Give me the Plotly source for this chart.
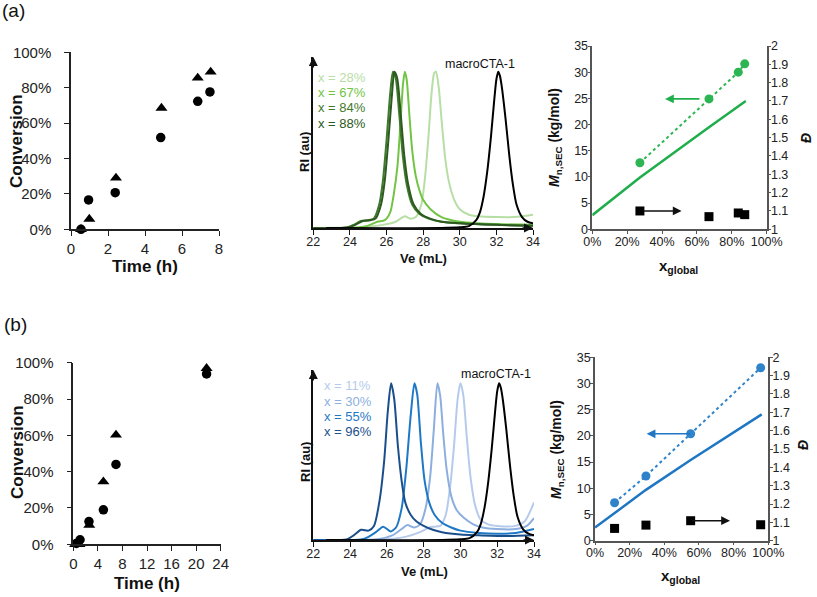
import plotly.graph_objects as go

W, H = 817, 597
OFF = 0
FONT = "Liberation Sans, Arial, sans-serif"

# ---------------- data ----------------
# (a) kinetics
t_a_circ = [0.54, 0.95, 2.39, 4.85, 6.85, 7.51]
c_a_circ = [0.0, 0.166, 0.207, 0.518, 0.723, 0.776]
t_a_tri = [0.54, 0.99, 2.43, 4.89, 6.85, 7.55]
c_a_tri = [0.0, 0.058, 0.29, 0.685, 0.855, 0.889]
# (b) kinetics
t_b_circ = [0.5, 1.1, 2.55, 4.9, 6.95, 21.7]
c_b_circ = [0.005, 0.025, 0.125, 0.19, 0.44, 0.938]
t_b_tri = [0.3, 1.0, 2.6, 4.9, 6.95, 21.7]
c_b_tri = [0.0, 0.0, 0.105, 0.345, 0.602, 0.969]

# (a) SEC traces (Ve in mL, normalised RI)
ve_a_cta = [22.7, 29.0, 30.0, 30.5, 30.9, 31.1, 31.3, 31.5, 31.7, 31.9, 32.0, 32.1, 32.2, 32.3, 32.5, 32.7, 32.9, 33.1, 33.4, 33.7, 34.0]
ri_a_cta = [0.0, 0.0, 0.004, 0.012, 0.05, 0.1, 0.2, 0.36, 0.58, 0.84, 0.95, 1.0, 0.97, 0.9, 0.7, 0.47, 0.28, 0.15, 0.07, 0.04, 0.03]
ve_a_28 = [22.0, 24.0, 25.0, 25.8, 26.5, 27.0, 27.3, 27.6, 27.9, 28.1, 28.3, 28.45, 28.6, 28.7, 28.85, 29.0, 29.2, 29.4, 29.7, 30.0, 30.5, 31.0, 32.0, 33.0, 34.0]
ri_a_28 = [0.0, 0.003, 0.008, 0.02, 0.04, 0.075, 0.06, 0.07, 0.15, 0.32, 0.6, 0.85, 0.99, 1.0, 0.9, 0.7, 0.45, 0.3, 0.18, 0.12, 0.085, 0.075, 0.07, 0.07, 0.085]
ve_a_67 = [22.0, 24.5, 25.0, 25.5, 25.9, 26.2, 26.4, 26.6, 26.75, 26.9, 27.0, 27.1, 27.25, 27.4, 27.6, 27.8, 28.0, 28.4, 29.0, 30.0, 31.0, 32.0, 34.0]
ri_a_67 = [0.0, 0.003, 0.015, 0.04, 0.05, 0.1, 0.22, 0.4, 0.65, 0.92, 1.0, 0.95, 0.72, 0.5, 0.33, 0.24, 0.18, 0.12, 0.07, 0.04, 0.03, 0.025, 0.02]
ve_a_84 = [22.0, 23.8, 24.2, 24.6, 25.0, 25.3, 25.6, 25.8, 26.0, 26.2, 26.35, 26.5, 26.7, 26.9, 27.1, 27.4, 27.8, 28.3, 29.0, 30.0, 32.0, 34.0]
ri_a_84 = [0.0, 0.003, 0.02, 0.045, 0.05, 0.06, 0.15, 0.3, 0.56, 0.86, 1.0, 0.96, 0.72, 0.45, 0.28, 0.15, 0.09, 0.06, 0.04, 0.03, 0.02, 0.015]
ve_a_88 = [22.0, 23.9, 24.3, 24.7, 25.1, 25.4, 25.7, 25.9, 26.1, 26.3, 26.43, 26.58, 26.78, 26.98, 27.18, 27.48, 27.88, 28.38, 29.0, 30.0, 32.0, 34.0]
ri_a_88 = [0.0, 0.003, 0.02, 0.045, 0.05, 0.06, 0.15, 0.3, 0.56, 0.86, 1.0, 0.96, 0.72, 0.45, 0.28, 0.15, 0.09, 0.06, 0.04, 0.03, 0.02, 0.015]

# (b) SEC traces
ve_b_cta = [22.7, 29.0, 30.0, 30.5, 30.9, 31.1, 31.3, 31.5, 31.7, 31.9, 32.0, 32.1, 32.2, 32.3, 32.5, 32.7, 32.9, 33.1, 33.4, 33.7, 34.0]
ri_b_cta = [0.0, 0.0, 0.004, 0.012, 0.05, 0.1, 0.2, 0.36, 0.58, 0.84, 0.95, 1.0, 0.97, 0.9, 0.7, 0.47, 0.28, 0.15, 0.07, 0.04, 0.03]
ve_b_11 = [22.0, 26.0, 27.0, 27.8, 28.3, 28.6, 28.9, 29.2, 29.45, 29.65, 29.85, 30.0, 30.15, 30.35, 30.55, 30.8, 31.1, 31.5, 32.0, 33.0, 33.5, 34.0]
ri_b_11 = [0.0, 0.005, 0.02, 0.05, 0.08, 0.085, 0.09, 0.16, 0.35, 0.6, 0.9, 1.0, 0.93, 0.65, 0.4, 0.22, 0.13, 0.1, 0.09, 0.09, 0.12, 0.24]
ve_b_30 = [22.0, 25.5, 26.3, 26.8, 27.1, 27.5, 27.8, 28.1, 28.35, 28.55, 28.75, 28.9, 29.05, 29.25, 29.5, 29.8, 30.2, 30.7, 31.2, 32.0, 33.0, 33.6, 34.0]
ri_b_30 = [0.0, 0.005, 0.03, 0.07, 0.095, 0.08, 0.1, 0.2, 0.4, 0.7, 1.0, 0.92, 0.7, 0.45, 0.28, 0.19, 0.14, 0.1, 0.08, 0.07, 0.07, 0.09, 0.14]
ve_b_55 = [22.0, 24.6, 25.0, 25.4, 25.8, 26.2, 26.5, 26.8, 27.05, 27.3, 27.5, 27.65, 27.85, 28.05, 28.3, 28.6, 29.0, 29.5, 30.0, 31.0, 32.0, 33.0, 34.0]
ri_b_55 = [0.0, 0.003, 0.02, 0.05, 0.085, 0.055, 0.08, 0.2, 0.45, 0.8, 1.0, 0.93, 0.62, 0.38, 0.24, 0.16, 0.11, 0.08, 0.06, 0.045, 0.04, 0.045, 0.07]
ve_b_96 = [22.0, 23.8, 24.2, 24.6, 25.0, 25.3, 25.6, 25.85, 26.05, 26.23, 26.4, 26.6, 26.8, 27.0, 27.3, 27.6, 28.0, 28.5, 29.0, 30.0, 31.0, 32.5, 34.0]
ri_b_96 = [0.0, 0.003, 0.03, 0.065, 0.06, 0.09, 0.25, 0.5, 0.82, 1.0, 0.9, 0.6, 0.38, 0.24, 0.16, 0.12, 0.09, 0.065, 0.05, 0.035, 0.03, 0.025, 0.03]

sec_a_labels = ["x = 28%", "x = 67%", "x = 84%", "x = 88%"]
sec_b_labels = ["x = 11%", "x = 30%", "x = 55%", "x = 96%"]

# (a) Mn / dispersity vs conversion
x_a_exp = [0.273, 0.669, 0.837, 0.874]
mn_a_exp = [12.7, 24.9, 30.0, 31.6]
x_a_th = [0.0, 0.273, 0.669, 0.837, 0.88]
mn_a_th = [2.7, 9.9, 19.5, 23.5, 24.5]
d_a = [1.100, 1.069, 1.089, 1.080]
# (b)
x_b_exp = [0.113, 0.294, 0.552, 0.956]
mn_b_exp = [7.25, 12.35, 20.4, 33.0]
x_b_th = [0.0, 0.113, 0.294, 0.552, 0.962]
mn_b_th = [2.5, 5.2, 9.7, 15.4, 24.1]
d_b = [1.067, 1.085, 1.109, 1.087]

GREEN_LIGHT = "#b7dea5"
GREEN_MID = "#72c444"
GREEN_DARK = "#3f7a2c"
GREEN_DARKER = "#2c5a20"
BLUE_LIGHTEST = "#b6cbeb"
BLUE_LIGHT = "#8cafe0"
BLUE_MID = "#1f78c6"
BLUE_DARK = "#1b4f8c"
GREEN_MN = "#1fae4b"
GREEN_DOT = "#2db553"
BLUE_MN = "#1f77c4"
BLUE_DOT = "#2f83ca"


def px(xp):
    return (xp - OFF) / W


def py(yp):
    return 1 - (yp - OFF) / H


fig = go.Figure()

# ---------- traces ----------
def kin(tc, cc, tt, ct, xa, ya):
    fig.add_trace(go.Scatter(x=tc, y=cc, mode="markers", xaxis=xa, yaxis=ya,
                             marker=dict(symbol="circle", size=9.5, color="black"), cliponaxis=False))
    fig.add_trace(go.Scatter(x=tt, y=ct, mode="markers", xaxis=xa, yaxis=ya,
                             marker=dict(symbol="triangle-up", size=10.5, color="black"), cliponaxis=False))

kin(t_a_circ, c_a_circ, t_a_tri, c_a_tri, "x", "y")
kin(t_b_circ, c_b_circ, t_b_tri, c_b_tri, "x5", "y5")

for ve, ri, col in [(ve_a_28, ri_a_28, GREEN_LIGHT), (ve_a_67, ri_a_67, GREEN_MID),
                    (ve_a_84, ri_a_84, GREEN_DARK), (ve_a_88, ri_a_88, GREEN_DARKER),
                    (ve_a_cta, ri_a_cta, "black")]:
    fig.add_trace(go.Scatter(x=ve, y=ri, mode="lines", xaxis="x2", yaxis="y2",
                             line=dict(color=col, width=2, shape="spline", smoothing=0.7)))
for ve, ri, col in [(ve_b_11, ri_b_11, BLUE_LIGHTEST), (ve_b_30, ri_b_30, BLUE_LIGHT),
                    (ve_b_55, ri_b_55, BLUE_MID), (ve_b_96, ri_b_96, BLUE_DARK),
                    (ve_b_cta, ri_b_cta, "black")]:
    fig.add_trace(go.Scatter(x=ve, y=ri, mode="lines", xaxis="x6", yaxis="y6",
                             line=dict(color=col, width=2, shape="spline", smoothing=0.7)))


def mnplot(xth, mth, xe, me, d, col, dcol, xa, ya, yd):
    fig.add_trace(go.Scatter(x=xth, y=mth, mode="lines", xaxis=xa, yaxis=ya,
                             line=dict(color=col, width=2.5)))
    fig.add_trace(go.Scatter(x=xe, y=me, mode="lines+markers", xaxis=xa, yaxis=ya,
                             line=dict(color=dcol, width=2, dash="dot"),
                             marker=dict(size=9, color=dcol), cliponaxis=False))
    fig.add_trace(go.Scatter(x=xe, y=d, mode="markers", xaxis=xa, yaxis=yd,
                             marker=dict(symbol="square", size=9, color="black"), cliponaxis=False))

mnplot(x_a_th, mn_a_th, x_a_exp, mn_a_exp, d_a, GREEN_MN, GREEN_DOT, "x3", "y3", "y4")
mnplot(x_b_th, mn_b_th, x_b_exp, mn_b_exp, d_b, BLUE_MN, BLUE_DOT, "x7", "y7", "y8")

# ---------- axes ----------
tickf = dict(family=FONT, size=15, color="#222")
ax_common = dict(showgrid=False, zeroline=False, showline=True, linecolor="#222", linewidth=1.5,
                 ticks="outside", ticklen=5, tickcolor="#222", tickwidth=1.2, automargin=False)

def dom(x0, x1, y0, y1):
    return [px(x0), px(x1)], [py(y1), py(y0)]

# conversion a
dx, dy = dom(71, 219, 52.3, 229.3)
fig.update_layout(
    xaxis=dict(domain=dx, anchor="y", range=[0, 8], dtick=2, tickfont=tickf, **ax_common),
    yaxis=dict(domain=dy, anchor="x", range=[0, 1], dtick=0.2, tickformat=".0%", tickfont=tickf,
               ticklabelstandoff=10, **ax_common),
)
dx, dy = dom(73.3, 220.7, 362.7, 544.3)
fig.update_layout(
    xaxis5=dict(domain=dx, anchor="y5", range=[0, 24], dtick=4, tickfont=tickf, **ax_common),
    yaxis5=dict(domain=dy, anchor="x5", range=[0, 1], dtick=0.2, tickformat=".0%", tickfont=tickf,
                ticklabelstandoff=10, **ax_common),
)

# SEC axes
secf = dict(family=FONT, size=12.5, color="#222")
sec_x = dict(showgrid=False, zeroline=False, showline=True, linecolor="#111", linewidth=1.5,
             ticks="outside", ticklen=5, tickcolor="#111", range=[22, 34], dtick=2, tickfont=secf,
             ticklabelstandoff=-4, automargin=False)
sec_y = dict(showgrid=False, zeroline=False, showline=True, linecolor="#111", linewidth=1.5,
             showticklabels=False, ticks="", automargin=False)
dx, dy = dom(313.3, 533, 57, 228)
fig.update_layout(xaxis2=dict(domain=dx, anchor="y2", **sec_x),
                  yaxis2=dict(domain=dy, anchor="x2", range=[0, 1.094], **sec_y))
dx, dy = dom(313.3, 534, 370, 540)
fig.update_layout(xaxis6=dict(domain=dx, anchor="y6", **sec_x),
                  yaxis6=dict(domain=dy, anchor="x6", range=[0, 1.085], **sec_y))

# Mn axes
mnf = dict(family=FONT, size=12.5, color="#222")
mn_ax = dict(showgrid=False, zeroline=False, showline=True, linecolor="#555", linewidth=1.5,
             ticks="outside", ticklen=3, tickcolor="#555", tickwidth=1.2, tickfont=mnf,
             automargin=False)
dx, dy = dom(592.3, 766.7, 46, 229.3)
fig.update_layout(
    xaxis3=dict(domain=dx, anchor="y3", range=[0, 1], dtick=0.2, tickformat=".0%",
                ticklabelstandoff=-3, **mn_ax),
    yaxis3=dict(domain=dy, anchor="x3", range=[0, 35], dtick=5, ticklabelstandoff=-3, **mn_ax),
    yaxis4=dict(overlaying="y3", anchor="x3", side="right", range=[1, 2], dtick=0.1,
                ticklabelstandoff=-3, **mn_ax),
)
dx, dy = dom(595, 768.3, 357.3, 540.7)
fig.update_layout(
    xaxis7=dict(domain=dx, anchor="y7", range=[0, 1], dtick=0.2, tickformat=".0%",
                ticklabelstandoff=-3, **mn_ax),
    yaxis7=dict(domain=dy, anchor="x7", range=[0, 35], dtick=5, ticklabelstandoff=-3, **mn_ax),
    yaxis8=dict(overlaying="y7", anchor="x7", side="right", range=[1, 2], dtick=0.1,
                ticklabelstandoff=-3, **mn_ax),
)

# ---------- annotations ----------
ann = []

def txt(xp, yp, text, size, color="#111", angle=0, xanchor="center"):
    ann.append(dict(x=px(xp), y=py(yp), xref="paper", yref="paper", text=text, showarrow=False,
                    font=dict(family=FONT, size=size, color=color), textangle=angle,
                    xanchor=xanchor, yanchor="middle"))

txt(14, 10, "(a)", 19)
txt(15, 324, "(b)", 19)

# kinetics titles
txt(16, 141, "<b>Conversion</b>", 17, angle=-90)
txt(145, 266, "<b>Time (h)</b>", 17)
txt(17, 452, "<b>Conversion</b>", 17, angle=-90)
txt(147, 583, "<b>Time (h)</b>", 17)

# SEC titles
txt(304, 152, "<b>RI (au)</b>", 13, angle=-90)
txt(423, 258, "<b>Ve (mL)</b>", 13)
txt(305, 462, "<b>RI (au)</b>", 13, angle=-90)
txt(424, 571, "<b>Ve (mL)</b>", 13)

for i, (lab, col) in enumerate(zip(sec_a_labels, [GREEN_LIGHT, GREEN_MID, GREEN_DARK, GREEN_DARKER])):
    txt(316, 77.3 + 15.3 * i, lab, 13, color=col, xanchor="left")
txt(480, 64, "macroCTA-1", 12.5, color="#111")
for i, (lab, col) in enumerate(zip(sec_b_labels, [BLUE_LIGHTEST, BLUE_LIGHT, BLUE_MID, BLUE_DARK])):
    txt(322, 385.7 + 15.4 * i, lab, 13, color=col, xanchor="left")
txt(496, 374, "macroCTA-1", 12.5, color="#111")

# axis arrows on SEC plots
for xa, ya, ytop in [("x2", "y2", 1.094), ("x6", "y6", 1.085)]:
    ann.append(dict(x=34, y=0, xref=xa, yref=ya, ax=-12, ay=0, showarrow=True, arrowhead=2,
                    arrowsize=1.2, arrowwidth=1.5, arrowcolor="#111", text=""))
    ann.append(dict(x=22, y=ytop, xref=xa, yref=ya, ax=0, ay=12, showarrow=True, arrowhead=2,
                    arrowsize=1.2, arrowwidth=1.5, arrowcolor="#111", text=""))

# Mn titles
mn_title = "<b><i>M</i><sub>n,SEC</sub> (kg/mol)</b>"
txt(555, 138, mn_title, 14, angle=-90)
txt(806, 138, "<b><i>Đ</i></b>", 14, angle=-90)
txt(678, 266, "<b>x<sub>global</sub></b>", 15)
txt(557, 450, mn_title, 14, angle=-90)
txt(803, 445, "<b><i>Đ</i></b>", 14, angle=-90)
txt(680, 576, "<b>x<sub>global</sub></b>", 15)

# Mn arrows
def arrow(xa, ya, x_head, x_tail, y, col):
    ann.append(dict(x=x_head, y=y, ax=x_tail, ay=y, xref=xa, yref=ya, axref=xa, ayref=ya,
                    showarrow=True, arrowhead=2, arrowsize=1.1, arrowwidth=1.6,
                    arrowcolor=col, text=""))

arrow("x3", "y3", 0.417, 0.623, 24.9, GREEN_MN)
arrow("x3", "y4", 0.512, 0.285, 1.100, "#111")
arrow("x7", "y7", 0.298, 0.558, 20.4, BLUE_MN)
arrow("x7", "y8", 0.779, 0.552, 1.109, "#111")

fig.update_layout(
    width=W, height=H, margin=dict(l=0, r=0, t=0, b=0, autoexpand=False),
    paper_bgcolor="white", plot_bgcolor="white", showlegend=False,
    font=dict(family=FONT, color="#111"), annotations=ann,
)

# remove the default 8px page margin so the figure fills the window exactly
fig.write_html("out.html", config={"displayModeBar": False},
               post_script="document.body.style.margin='0px';")
